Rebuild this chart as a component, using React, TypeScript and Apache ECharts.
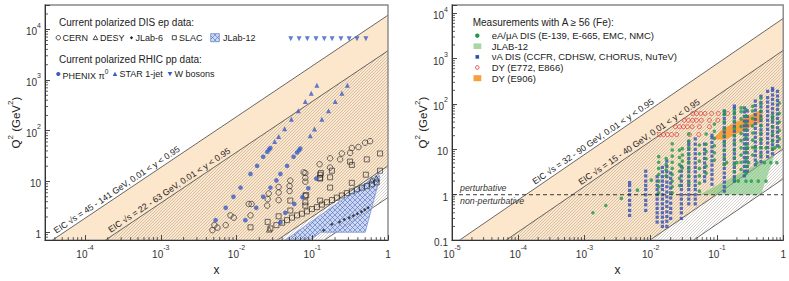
import React, { useEffect, useRef } from "react";
import * as echarts from "echarts";

const FONT = "'Liberation Sans', Arial, Helvetica, sans-serif";

// ---------------- axis ranges ----------------
const LEFT_X_RANGE = [2.96e-5, 1];
const LEFT_Q2_RANGE = [0.7, 3.0e4];
const RIGHT_X_RANGE = [1e-5, 1];
const RIGHT_Q2_RANGE = [0.1, 1.52e4];

// ---------------- EIC kinematic bands ----------------
const LEFT_EIC_SQRT_S = [[45, 141], [22, 63]];
const RIGHT_EIC_SQRT_S = [[32, 90], [15, 40]];
const INELASTICITY = [0.01, 0.95];
const LEFT_EIC_LABELS = ["EIC √s = 45 - 141 GeV, 0.01 < y < 0.95", "EIC √s = 22 - 63 GeV, 0.01 < y < 0.95"];
const LEFT_EIC_LABEL_X = [4.4e-5, 2.3e-4];
const RIGHT_EIC_LABELS = ["EIC √s = 32 - 90 GeV, 0.01 < y < 0.95", "EIC √s = 15 - 40 GeV, 0.01 < y < 0.95"];
const RIGHT_EIC_LABEL_X = [1.9e-4, 9.4e-4];
const PERTURBATIVE_Q2 = 1;

// ---------------- left panel data (x, Q2) ----------------
const CERN = [
  [0.0048, 1.1], [0.0056, 1.23], [0.0051, 1.38], [0.0072, 1.38], [0.0092, 1.94], [0.0083, 2.15],
  [0.0153, 2.15], [0.0145, 3.6], [0.0158, 3.6], [0.0254, 3.35], [0.0258, 4.5], [0.0266, 5.8],
  [0.036, 6.06], [0.036, 7.8], [0.036, 4.3], [0.0502, 6.5], [0.0502, 8.1], [0.0513, 10.4],
  [0.081, 9.9], [0.081, 14.7], [0.077, 15.1], [0.081, 11.8], [0.125, 21.9], [0.172, 28.6],
  [0.172, 18.8], [0.233, 27.3], [0.246, 35.6], [0.316, 36.6], [0.333, 45.7], [0.407, 47.7],
  [0.498, 58], [0.58, 62.3],
];
const DESY = [[0.027, 1.14], [0.61, 10.6], [0.7, 11.5]];
const JLAB6 = [
  [0.141, 1.1], [0.182, 1.44], [0.229, 1.6], [0.264, 1.78], [0.307, 1.94], [0.349, 2.12],
  [0.394, 2.32], [0.446, 2.54], [0.493, 2.77], [0.546, 3.03],
];
const SLAC = [
  [0.0153, 1.25], [0.0258, 1.6], [0.036, 2.06], [0.0513, 2.68], [0.0513, 4.2], [0.081, 3.35],
  [0.083, 5.4], [0.081, 5.2], [0.081, 3.9], [0.127, 11.8], [0.13, 14.7], [0.127, 13.6],
  [0.127, 11.4], [0.182, 16.3], [0.172, 12.1], [0.316, 24.6], [0.333, 21.2], [0.525, 27.3],
  [0.785, 35.6], [0.785, 16.3], [0.51, 13.6], [0.333, 9.4], [0.172, 7.57], [0.127, 4.2],
  [0.028, 1.19], [0.0336, 1.38], [0.04, 1.54], [0.0465, 1.73], [0.054, 1.94], [0.063, 2.15],
  [0.073, 2.32], [0.085, 2.57], [0.099, 2.86], [0.115, 3.12], [0.134, 3.5], [0.156, 3.9],
  [0.182, 4.3], [0.211, 4.8], [0.246, 5.3], [0.286, 5.9], [0.333, 6.4], [0.387, 7.0],
  [0.451, 7.57], [0.525, 8.1], [0.61, 8.75], [0.71, 9.6],
];
const JLAB12_LEFT_X = [0.044, 0.75, 0.78, 0.5, 0.13, 0.094];
const JLAB12_LEFT_Q2 = [0.7, 14, 12, 1.0, 1.0, 0.7];
const PHENIX_PI0 = [
  [0.0053, 1.73], [0.0072, 3.03], [0.0091, 4.99], [0.0113, 7.57], [0.0153, 14.1], [0.0187, 20.3],
  [0.0225, 30.7], [0.0254, 38.3], [0.0269, 42.5], [0.028, 45.7],
  [0.0131, 1.73], [0.0182, 3.03], [0.0225, 4.99], [0.028, 7.57], [0.0336, 10.5], [0.038, 14.1],
  [0.0465, 20.3], [0.0567, 30.7], [0.0629, 37.2], [0.0668, 41.2], [0.0695, 44.5],
  [0.038, 1.56], [0.0441, 2.42], [0.058, 3.61], [0.0739, 4.92], [0.0886, 7.33], [0.113, 11.4],
];
const STAR_JET = [
  [0.0319, 61.4], [0.036, 76.7], [0.0432, 109], [0.053, 168], [0.0654, 248], [0.081, 378],
  [0.097, 550], [0.115, 791],
  [0.094, 80], [0.107, 108], [0.134, 168], [0.164, 248], [0.201, 378], [0.246, 545], [0.291, 791],
];
const W_BOSON_X = [0.052, 0.067, 0.086, 0.112, 0.144, 0.183, 0.239, 0.307, 0.39, 0.51];
const W_BOSON_Q2 = 6500;

// ---------------- right panel data ----------------
const EA_COL_X = [0.0132, 0.0171, 0.0211, 0.0272, 0.03, 0.0375, 0.0543, 0.0686, 0.0914, 0.129, 0.183, 0.231, 0.274, 0.345, 0.461, 0.69, 0.87];
const EA_COL_Q2 = [
  [1.1, 1.5, 2.0, 2.8, 3.8, 5.2, 6.9],
  [2.6, 3.5, 4.6, 6.3],
  [1.1, 1.5, 2.0, 2.8, 3.8, 5.2, 7.1, 9.7, 13.3],
  [1.6, 2.3, 3.3, 4.6, 6.6, 9.6],
  [3.9, 5.5, 7.5, 10.4],
  [1.8, 2.6, 3.7, 5.3, 7.6, 10.8, 15.5, 21.8],
  [1.2, 1.8, 2.6, 3.8, 5.5, 8, 12.5],
  [3.0, 4.3, 6.2, 9, 13, 21.8],
  [5.8, 8.4, 12, 17.5, 25, 36],
  [4.6, 6.6, 9.5, 13.7, 19.8, 28.5, 41, 59, 70],
  [2.2, 3.2, 4.6, 6.6, 9.5, 13.7, 20, 29, 42, 60, 70],
  [3.6, 5.2, 7.5, 10.8, 15.6, 22.5, 32, 47, 68, 82],
  [2.0, 2.9, 4.2, 6.1, 8.8, 12.7, 18.4, 26.6, 38, 55, 75],
  [7.5, 11, 16, 23, 33, 48, 70, 89],
  [7.5, 11, 16, 23, 33, 48, 70, 100, 134],
  [10.4, 15, 21.6, 31, 45, 54],
  [11.3, 17, 26, 40, 62, 105],
];
const EA_EXTRA = [
  [0.00134, 0.4], [0.0021, 0.58], [0.0036, 0.83], [0.0063, 1.26], [0.0102, 2.1],
  [0.21, 2.0], [0.33, 2.0], [0.42, 2.0], [0.55, 2.0],
  [0.14, 5.1], [0.2, 5.1], [0.3, 5.1], [0.4, 5.1], [0.52, 5.1], [0.65, 5.1], [0.8, 5.1],
  [0.29, 10.8], [0.38, 10.8], [0.55, 10.8], [0.75, 10.8],
];
const NUA_COL_X = [0.0048, 0.0084, 0.0125, 0.015, 0.0175, 0.02, 0.029, 0.0375, 0.047, 0.065, 0.084, 0.129, 0.183, 0.259, 0.287, 0.379, 0.461, 0.581, 0.69, 0.82];
const NUA_COL_Q2 = [
  [0.35, 0.45, 0.6, 0.75, 1.0, 1.25, 1.6, 1.85],
  [0.45, 0.6, 0.75, 1.0, 1.3, 1.6, 2.0, 2.6, 3.3],
  [0.25, 0.32, 0.4, 0.5, 0.63, 0.8, 1.0, 1.3, 1.6, 2.0, 2.5],
  [0.2, 0.25, 0.32, 0.4, 0.5, 0.63, 0.8, 1.0, 1.3, 1.6, 2.0, 2.5, 3.2, 4.0],
  [0.2, 0.26, 0.33, 0.42, 0.55, 0.7, 0.9, 1.15, 1.5, 1.9, 2.5, 3.2, 4.2, 5.5],
  [0.3, 0.4, 0.5, 0.65, 0.85, 1.1, 1.4, 1.8, 2.3, 3.0],
  [0.3, 0.4, 0.5, 0.63, 0.8, 1.0, 1.3, 1.6, 2.0, 2.6, 3.3, 4.2],
  [0.63, 0.8, 1.0, 1.3, 1.6, 2.0, 2.5, 3.2, 4.0, 5.0, 6.3, 8.0, 10, 12.6, 14.5],
  [0.63, 0.8, 1.0, 1.3, 1.6, 2.0, 2.5, 3.2, 4.0, 5.0, 6.3, 8.0, 10, 13, 17],
  [2.0, 2.5, 3.2, 4.0, 5.0, 6.3, 8.0, 10, 13],
  [1.7, 2.2, 2.8, 3.5, 4.5, 5.6, 7.1, 9, 11.3, 14.2, 18, 20.5],
  [1.2, 1.5, 1.9, 2.4, 3.0, 3.8, 4.8, 6.0, 7.6, 9.6, 12, 15, 19, 24, 30, 38, 48, 60, 70],
  [2.0, 2.5, 3.2, 4.0, 5.0, 6.3, 8, 10, 12.6, 16, 20, 25, 32, 40, 50, 63, 80, 90],
  [2.6, 3.3, 4.2, 5.3, 6.6, 8.4, 10.5, 13.3, 16.7, 21, 26.5, 33, 42, 53, 67, 82],
  [3.3, 4.2, 5.3, 6.6, 8.4, 10.5, 13.3, 16.7, 21, 26.5, 33, 42, 53, 70],
  [4.6, 5.8, 7.3, 9.2, 11.6, 14.6, 18.4, 23, 29, 37, 46, 58, 73, 92, 116],
  [5.4, 6.8, 8.6, 10.8, 13.6, 17, 21.5, 27, 34, 43, 54, 68, 86, 108, 148],
  [6.9, 8.7, 11, 13.8, 17.4, 22, 27.6, 34.8, 43.8, 55, 69, 87, 110, 138, 190],
  [8, 10, 12.6, 15.9, 20, 25, 31.6, 40, 50, 63, 79, 100, 126, 158, 200, 220],
  [12, 15, 19, 24, 30, 38, 48, 60, 76, 95, 120, 150, 190],
];
const DY_ROW_Q2 = [61.8, 43.7, 31.5, 21.2];
const DY_ROW_X = [
  [0.043, 0.049, 0.057, 0.066, 0.083, 0.105, 0.145],
  [0.032, 0.037, 0.043, 0.049, 0.058, 0.077, 0.103],
  [0.0236, 0.0272, 0.0312, 0.0358, 0.0422, 0.0543, 0.077],
  [0.0136, 0.0156, 0.0179, 0.0206, 0.0247, 0.0384, 0.053],
];
const E906_X = [0.086, 0.12, 0.46, 0.49, 0.135];
const E906_Q2 = [16.5, 28, 75, 42, 16.5];
const JLAB12_RIGHT_X = [0.054, 0.74, 0.46];
const JLAB12_RIGHT_Q2 = [1.0, 7.5, 1.0];

// ---------------- styles ----------------
const ORANGE_BAND = "#fce6cc";
const BLUE = "#3a5cc6";
const GREEN = "#1f9a48";
const NU_BLUE = "#2f4fb5";
const RED = "#e2403c";
const E906_ORANGE = "#f7a040";
const INK = "#222";

function makePattern(size: number, bg: string | null, stroke: string, lw: number, cross: boolean) {
  const c = document.createElement("canvas");
  c.width = size;
  c.height = size;
  const g = c.getContext("2d")!;
  if (bg) {
    g.fillStyle = bg;
    g.fillRect(0, 0, size, size);
  }
  g.strokeStyle = stroke;
  g.lineWidth = lw;
  g.beginPath();
  for (const k of [0, 1, 2]) {
    const cc = k * size;
    g.moveTo(cc + 1, -1);
    g.lineTo(-1, cc + 1);
  }
  if (cross) {
    for (const k of [-1, 0, 1]) {
      const d = k * size;
      g.moveTo(d - 1, -1);
      g.lineTo(d + size + 1, size + 1);
    }
  }
  g.stroke();
  return { image: c, repeat: "repeat", imageWidth: size, imageHeight: size };
}

function minorValues(lo: number, hi: number) {
  const out: number[] = [];
  for (let e = Math.floor(Math.log10(lo)); e <= Math.ceil(Math.log10(hi)); e++) {
    for (let m = 2; m <= 9; m++) {
      const v = m * Math.pow(10, e);
      if (v > lo * 1.0001 && v < hi * 0.9999) out.push(v);
    }
  }
  return out;
}

const rich = {
  b: { fontSize: 10, fontFamily: FONT, color: "#333", lineHeight: 15, verticalAlign: "bottom" },
  s: { fontSize: 7, fontFamily: FONT, color: "#333", lineHeight: 8, verticalAlign: "top" },
};

function isPow(v: number) {
  const e = Math.round(Math.log10(v));
  return Math.abs(v - Math.pow(10, e)) < 1e-6 * Math.pow(10, e) ? e : null;
}
const fmtX = (v: number) => {
  const e = isPow(v);
  if (e === null) return "";
  if (e === 0) return "{b|1}";
  return `{b|10}{s|${e}}`;
};
const fmtY = (v: number) => {
  const e = isPow(v);
  if (e === null) return "";
  if (e === 0) return "{b|1}";
  if (e === 1) return "{b|10}";
  if (e === -1) return "{b|0.1}";
  return `{b|10}{s|${e}}`;
};

const axisBase = {
  type: "log",
  logBase: 10,
  z: 8,
  axisLine: { show: true, onZero: false, lineStyle: { color: "#333", width: 1 } },
  axisTick: { show: true, inside: true, length: 5, lineStyle: { color: "#333", width: 0.9 } },
  splitLine: { show: false },
  minorTick: { show: false },
  minorSplitLine: { show: false },
};

function xAxisOpt(idx: number, range: number[]) {
  return {
    ...axisBase,
    gridIndex: idx,
    min: range[0],
    max: range[1],
    axisLabel: { formatter: fmtX, rich, margin: 4, color: "#333" },
    name: "x",
    nameLocation: "middle",
    nameGap: 17,
    nameTextStyle: { fontSize: 12, fontFamily: FONT, color: INK },
  };
}
function yAxisOpt(idx: number, range: number[]) {
  return {
    ...axisBase,
    gridIndex: idx,
    min: range[0],
    max: range[1],
    axisLabel: { formatter: fmtY, rich, margin: 4, color: "#333" },
    name: "{q|Q}{s|2}{q| (GeV}{s|2}{q|)}",
    nameLocation: "middle",
    nameRotate: 90,
    nameGap: 22,
    nameTextStyle: {
      fontFamily: FONT,
      rich: {
        q: { fontSize: 11.5, fontFamily: FONT, color: INK, lineHeight: 16, verticalAlign: "bottom" },
        s: { fontSize: 8, fontFamily: FONT, color: INK, lineHeight: 9, verticalAlign: "top" },
      },
    },
  };
}

function bandSeries(idx: number, sqrtS: number[][], labels: string[], labelX: number[], hatch: any) {
  return {
    type: "custom",
    xAxisIndex: idx,
    yAxisIndex: idx,
    clip: true,
    silent: true,
    z: 1,
    data: [[0.5, 1]],
    renderItem: (_p: any, api: any) => {
      const XL = 1e-9;
      const XH = 10;
      const up = sqrtS.map((r) => r[1] * r[1] * INELASTICITY[1]);
      const lo = sqrtS.map((r) => r[0] * r[0] * INELASTICITY[0]);
      const quad = (a: number, b: number) => [
        api.coord([XL, a * XL]),
        api.coord([XH, a * XH]),
        api.coord([XH, b * XH]),
        api.coord([XL, b * XL]),
      ];
      const line = (a: number) => {
        const p = api.coord([XL, a * XL]);
        const q = api.coord([XH, a * XH]);
        return {
          type: "line",
          shape: { x1: p[0], y1: p[1], x2: q[0], y2: q[1] },
          style: { stroke: "#444", lineWidth: 0.8 },
        };
      };
      const texts = labels.map((t, i) => {
        const x0 = labelX[i];
        const a = up[i];
        const p = api.coord([x0, a * x0]);
        const q = api.coord([x0 * 10, a * x0 * 10]);
        const ang = Math.atan2(p[1] - q[1], q[0] - p[0]);
        return {
          type: "text",
          x: p[0],
          y: p[1],
          rotation: ang,
          style: {
            text: t,
            x: 0,
            y: -1.5,
            fontSize: 8.7,
            fontFamily: FONT,
            fill: INK,
            align: "left",
            verticalAlign: "bottom",
          },
        };
      });
      return {
        type: "group",
        children: [
          { type: "polygon", shape: { points: quad(up[0], lo[0]) }, style: { fill: ORANGE_BAND } },
          { type: "polygon", shape: { points: quad(up[1], lo[1]) }, style: { fill: hatch } },
          line(up[0]),
          line(lo[0]),
          line(up[1]),
          line(lo[1]),
          ...texts,
        ],
      };
    },
  };
}

function polygonSeries(idx: number, xs: number[], qs: number[], style: any, z: number) {
  return {
    type: "custom",
    xAxisIndex: idx,
    yAxisIndex: idx,
    clip: true,
    silent: true,
    z,
    data: [[xs[0], qs[0]]],
    renderItem: (_p: any, api: any) => ({
      type: "polygon",
      shape: { points: xs.map((x, i) => api.coord([x, qs[i]])) },
      style,
    }),
  };
}

function tickSeries(idx: number, xr: number[], yr: number[]) {
  const data = [
    ...minorValues(xr[0], xr[1]).map((v) => [v, 1]),
    ...minorValues(yr[0], yr[1]).map((v) => [2, v]),
  ];
  return {
    type: "custom",
    xAxisIndex: idx,
    yAxisIndex: idx,
    clip: false,
    silent: true,
    z: 9,
    data,
    renderItem: (params: any, api: any) => {
      const d = data[params.dataIndex];
      if (d[1] === 1) {
        const p = api.coord([d[0], yr[0]]);
        return { type: "line", shape: { x1: p[0], y1: p[1], x2: p[0], y2: p[1] - 3 }, style: { stroke: "#333", lineWidth: 0.8 } };
      }
      const p = api.coord([xr[0], d[1]]);
      return { type: "line", shape: { x1: p[0], y1: p[1], x2: p[0] + 3, y2: p[1] }, style: { stroke: "#333", lineWidth: 0.8 } };
    },
  };
}

function frameSeries(idx: number) {
  return {
    type: "custom",
    xAxisIndex: idx,
    yAxisIndex: idx,
    clip: false,
    silent: true,
    z: 7,
    data: [[0.5, 1]],
    renderItem: (params: any) => {
      const cs = params.coordSys;
      return {
        type: "rect",
        shape: { x: cs.x, y: cs.y, width: cs.width, height: cs.height },
        style: { fill: "none", stroke: "#888", lineWidth: 1.4 },
      };
    },
  };
}

function scatter(idx: number, data: number[][], symbol: string, size: number, color: string, open: boolean, extra: any = {}) {
  return {
    type: "scatter",
    xAxisIndex: idx,
    yAxisIndex: idx,
    data,
    symbol,
    symbolSize: size,
    z: 4,
    silent: true,
    itemStyle: open
      ? { color: "rgba(255,255,255,0)", borderColor: color, borderWidth: 0.8 }
      : { color, borderWidth: 0 },
    ...extra,
  };
}

function buildOption() {
  const hatch = makePattern(3, null, "rgba(115,95,75,0.42)", 0.7, false);
  const cross = makePattern(5, "rgba(190,205,240,0.75)", "rgba(70,100,190,0.8)", 0.7, true);

  const wData = W_BOSON_X.map((x) => [x, W_BOSON_Q2]);
  const eaData = [...EA_COL_X.flatMap((x, i) => EA_COL_Q2[i].map((q) => [x, q])), ...EA_EXTRA];
  const nuData = NUA_COL_X.flatMap((x, i) => NUA_COL_Q2[i].map((q) => [x, q]));
  const dyData = DY_ROW_Q2.flatMap((q, i) => DY_ROW_X[i].map((x) => [x, q]));

  const txt = (x: number, y: number, text: string, size: number, extra: any = {}) => ({
    type: "text",
    x,
    y,
    z: 20,
    style: { text, fontSize: size, fontFamily: FONT, fill: INK, align: "left", verticalAlign: "middle", ...extra },
  });

  const r2 = 37.7;
  const r4 = 74;
  const legendLeft = [
    txt(59, 22, "Current polarized DIS ep data:", 10),
    { type: "circle", z: 20, shape: { cx: 58.3, cy: r2, r: 2.2 }, style: { fill: "none", stroke: INK, lineWidth: 0.8 } },
    txt(62.5, r2, "CERN", 9),
    { type: "polygon", z: 20, shape: { points: [[93.2, r2 + 1.9], [97.8, r2 + 1.9], [95.5, r2 - 2.2]] }, style: { fill: "none", stroke: INK, lineWidth: 0.8 } },
    txt(100, r2, "DESY", 9),
    { type: "polygon", z: 20, shape: { points: [[131.5, r2 - 1.8], [133.1, r2], [131.5, r2 + 1.8], [129.9, r2]] }, style: { fill: INK } },
    txt(135.5, r2, "JLab-6", 9),
    { type: "rect", z: 20, shape: { x: 172.3, y: r2 - 2, width: 4, height: 4 }, style: { fill: "none", stroke: INK, lineWidth: 0.8 } },
    txt(179, r2, "SLAC", 9),
    { type: "rect", z: 20, shape: { x: 210.7, y: r2 - 4, width: 8.6, height: 8 }, style: { fill: cross, stroke: "#6b86cc", lineWidth: 0.8 } },
    txt(223, r2, "JLab-12", 9),
    txt(59, 59, "Current polarized RHIC pp data:", 10),
    { type: "circle", z: 20, shape: { cx: 58.3, cy: r4, r: 2.1 }, style: { fill: BLUE } },
    {
      type: "text",
      x: 62.5,
      y: r4,
      z: 20,
      style: {
        text: "{n|PHENIX π}{s|0}",
        align: "left",
        verticalAlign: "middle",
        rich: {
          n: { fontSize: 9, fontFamily: FONT, fill: INK, color: INK, lineHeight: 13, verticalAlign: "bottom" },
          s: { fontSize: 6.5, fontFamily: FONT, fill: INK, color: INK, lineHeight: 7, verticalAlign: "top" },
        },
      },
    },
    { type: "polygon", z: 20, shape: { points: [[112.7, r4 + 2], [117.3, r4 + 2], [115, r4 - 2.2]] }, style: { fill: BLUE } },
    txt(119.5, r4, "STAR 1-jet", 9),
    { type: "polygon", z: 20, shape: { points: [[167.7, r4 - 2], [172.3, r4 - 2], [170, r4 + 2.2]] }, style: { fill: BLUE } },
    txt(174.5, r4, "W bosons", 9),
  ];

  const ry = [35.7, 46.2, 56.9, 67.5, 78.2];
  const legendRight = [
    txt(472.7, 22.7, "Measurements with A ≥ 56 (Fe):", 10),
    { type: "circle", z: 20, shape: { cx: 477.3, cy: ry[0], r: 2.2 }, style: { fill: GREEN } },
    txt(491.7, ry[0], "eA/μA DIS (E-139, E-665, EMC, NMC)", 9.5),
    { type: "rect", z: 20, shape: { x: 473.5, y: ry[1] - 2.8, width: 7.8, height: 5.6 }, style: { fill: "#a9d6a2" } },
    txt(491.7, ry[1], "JLAB-12", 9.5),
    { type: "rect", z: 20, shape: { x: 475.5, y: ry[2] - 1.8, width: 3.6, height: 3.6 }, style: { fill: NU_BLUE } },
    txt(491.7, ry[2], "νA DIS (CCFR, CDHSW, CHORUS, NuTeV)", 9.5),
    { type: "circle", z: 20, shape: { cx: 477.3, cy: ry[3], r: 1.8 }, style: { fill: "none", stroke: RED, lineWidth: 1 } },
    txt(491.7, ry[3], "DY (E772, E866)", 9.5),
    { type: "rect", z: 20, shape: { x: 473.5, y: ry[4] - 3, width: 7.8, height: 6 }, style: { fill: E906_ORANGE } },
    txt(491.7, ry[4], "DY (E906)", 9.5),
  ];

  const pertSeries = {
    type: "custom",
    xAxisIndex: 1,
    yAxisIndex: 1,
    clip: true,
    silent: true,
    z: 5,
    data: [[RIGHT_X_RANGE[0], PERTURBATIVE_Q2]],
    renderItem: (_p: any, api: any) => {
      const p1 = api.coord([RIGHT_X_RANGE[0], PERTURBATIVE_Q2]);
      const p2 = api.coord([RIGHT_X_RANGE[1], PERTURBATIVE_Q2]);
      const ts = { fontStyle: "italic", fontSize: 8.8, fontFamily: FONT, fill: "#333", align: "left" };
      return {
        type: "group",
        children: [
          { type: "line", shape: { x1: p1[0], y1: p1[1], x2: p2[0], y2: p2[1] }, style: { stroke: INK, lineWidth: 0.9, lineDash: [4, 3] } },
          { type: "text", x: p1[0] + 8, y: p1[1] - 2, style: { ...ts, text: "perturbative", verticalAlign: "bottom" } },
          { type: "text", x: p1[0] + 8, y: p1[1] + 2, style: { ...ts, text: "non-perturbative", verticalAlign: "top" } },
        ],
      };
    },
  };

  return {
    animation: false,
    backgroundColor: "#fff",
    textStyle: { fontFamily: FONT },
    grid: [
      { left: 45, top: 5, width: 343, height: 242, show: false },
      { left: 452, top: 5, width: 332, height: 241, show: false },
    ],
    xAxis: [xAxisOpt(0, LEFT_X_RANGE), xAxisOpt(1, RIGHT_X_RANGE)],
    yAxis: [yAxisOpt(0, LEFT_Q2_RANGE), yAxisOpt(1, RIGHT_Q2_RANGE)],
    graphic: [...legendLeft, ...legendRight],
    series: [
      bandSeries(0, LEFT_EIC_SQRT_S, LEFT_EIC_LABELS, LEFT_EIC_LABEL_X, hatch),
      polygonSeries(0, JLAB12_LEFT_X, JLAB12_LEFT_Q2, { fill: cross, stroke: "#7d95d0", lineWidth: 0.8 }, 2),
      scatter(0, SLAC, "rect", 5, INK, true),
      scatter(0, CERN, "circle", 5.5, INK, true),
      scatter(0, DESY, "triangle", 5.5, INK, true),
      scatter(0, JLAB6, "diamond", 3.5, INK, false),
      scatter(0, PHENIX_PI0, "circle", 4.6, BLUE, false),
      scatter(0, STAR_JET, "triangle", 5, BLUE, false),
      scatter(0, wData, "triangle", 5, BLUE, false, { symbolRotate: 180 }),
      frameSeries(0),
      tickSeries(0, LEFT_X_RANGE, LEFT_Q2_RANGE),

      bandSeries(1, RIGHT_EIC_SQRT_S, RIGHT_EIC_LABELS, RIGHT_EIC_LABEL_X, hatch),
      polygonSeries(1, JLAB12_RIGHT_X, JLAB12_RIGHT_Q2, { fill: "rgba(120,195,120,0.6)" }, 2),
      polygonSeries(1, E906_X, E906_Q2, { fill: E906_ORANGE }, 2),
      pertSeries,
      scatter(1, dyData, "circle", 4, RED, true, { itemStyle: { color: "rgba(255,255,255,0)", borderColor: RED, borderWidth: 1 } }),
      scatter(1, nuData, "rect", 3.2, NU_BLUE, false),
      scatter(1, eaData, "circle", 3.6, GREEN, false),
      frameSeries(1),
      tickSeries(1, RIGHT_X_RANGE, RIGHT_Q2_RANGE),
    ],
  };
}

export default function App() {
  const ref = useRef<HTMLDivElement>(null);
  useEffect(() => {
    document.body.style.margin = "0";
    const chart = echarts.init(ref.current!, null, { renderer: "svg" });
    chart.setOption(buildOption() as any);
    return () => chart.dispose();
  }, []);
  return <div ref={ref} style={{ width: 789, height: 281 }} />;
}
